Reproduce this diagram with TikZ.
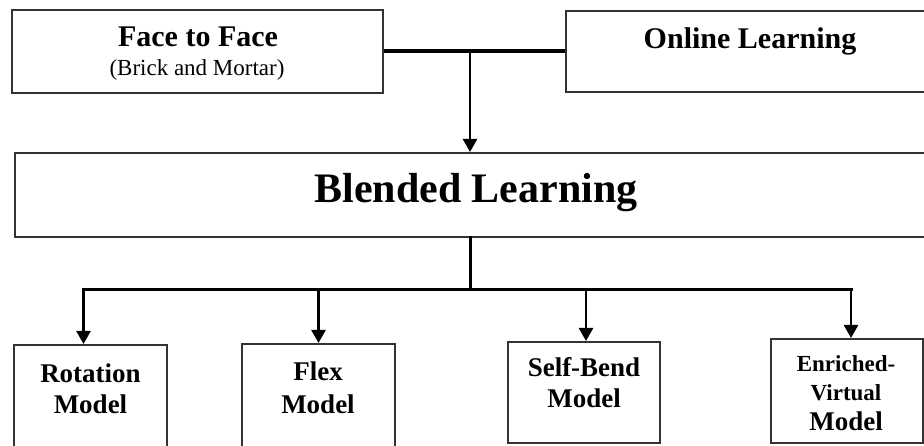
\documentclass[tikz,border=0pt]{standalone}
\usepackage{fontspec}
\setmainfont{Liberation Serif}
\usepackage{tikz}
\usetikzlibrary{arrows.meta}

\newcommand{\headfont}{\fontsize{30}{36}\selectfont\bfseries}
\newcommand{\notefont}{\fontsize{23}{27}\selectfont}
\newcommand{\bigfont}{\fontsize{42}{48}\selectfont\bfseries}
\newcommand{\modelfont}{\fontsize{27}{31}\selectfont\bfseries}
\newcommand{\smallmodelfont}{\fontsize{23}{27}\selectfont\bfseries}

\begin{document}
\begin{tikzpicture}[x=1pt, y=-1pt, line width=2pt,
    box/.style={draw=black!80, line width=2pt, rectangle, inner sep=0pt},
    txt/.style={anchor=base, inner sep=0pt},
    link/.style={line width=3pt, line cap=rect},
    drop/.style={line width=2.5pt, -{Triangle[width=14pt,length=13pt]}}]
    \useasboundingbox (0,0) rectangle (924,446);
    \clip (0,0) rectangle (924,446);

    % top row
    \node[box, minimum width=371pt, minimum height=83pt] (f2f) at (197.5,51.5) {};
    \node[box, minimum width=374pt, minimum height=81pt] (online) at (753,51.5) {};
    \node[txt, font=\headfont] (f2f-t) at (198,47) {Face to Face};
    \node[txt, font=\notefont] (f2f-n) at (197,76) {(Brick and Mortar)};
    \node[txt, font=\headfont] (online-t) at (750,49) {Online Learning};

    % middle
    \node[box, minimum width=920pt, minimum height=84pt] (blended) at (475,195) {};
    \node[txt, font=\bigfont] (blended-t) at (476,203) {Blended Learning};

    % models
    \node[box, minimum width=153pt, minimum height=125pt] (rot) at (90.5,407.5) {};
    \node[box, minimum width=153pt, minimum height=126pt] (flex) at (318.5,407) {};
    \node[box, minimum width=152pt, minimum height=101pt] (selfb) at (584,392.5) {};
    \node[box, minimum width=152pt, minimum height=104pt] (enrv) at (847,391) {};

    \node[txt, font=\modelfont] (rot-t1) at (90.5,382) {Rotation};
    \node[txt, font=\modelfont] (rot-t2) at (90.5,413) {Model};
    \node[txt, font=\modelfont] (flex-t1) at (318,381) {Flex};
    \node[txt, font=\modelfont] (flex-t2) at (318,413) {Model};
    \node[txt, font=\modelfont] (selfb-t1) at (584,377) {Self-Bend};
    \node[txt, font=\modelfont] (selfb-t2) at (584,407) {Model};
    \node[txt, font=\smallmodelfont] (enrv-t1) at (846,372) {Enriched-};
    \node[txt, font=\smallmodelfont] (enrv-t2) at (846,400) {Virtual};
    \node[txt, font=\modelfont] (enrv-t3) at (846,430) {Model};

    % connectors
    \draw[link, line width=4pt, line cap=butt] (f2f.east) -- (online.west);
    \coordinate (top) at (470,51.5);
    \draw[drop] (top) -- (top |- blended.north);

    \coordinate (hub) at (470,290);
    \draw[link] (blended.south -| hub) -- (hub);
    \draw[link] ([xshift=-7pt]rot.north |- hub) -- ([xshift=4pt]enrv.north |- hub);
    \foreach \b/\s in {rot/-7,flex/0,selfb/2,enrv/4}
        \draw[drop] ([xshift=\s pt]\b.north |- hub) -- ([xshift=\s pt]\b.north);
\end{tikzpicture}
\end{document}
